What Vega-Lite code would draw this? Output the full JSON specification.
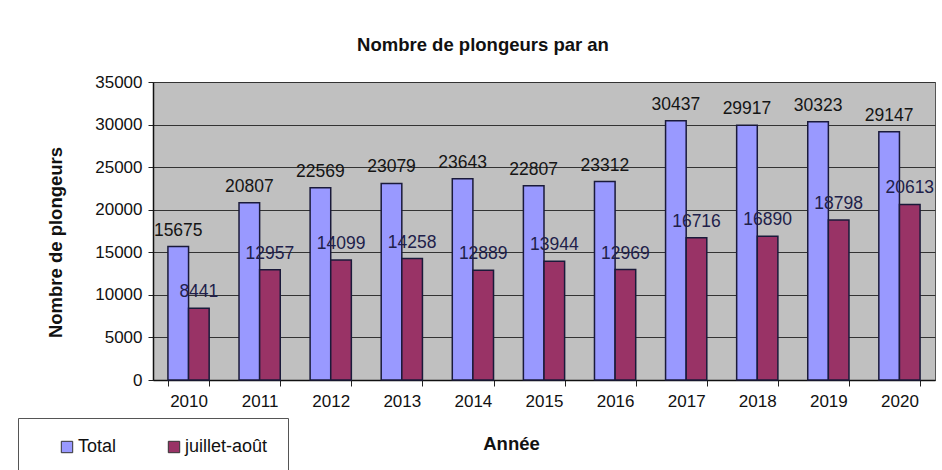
{
  "$schema": "https://vega.github.io/schema/vega-lite/v6.json",
  "width": 782,
  "height": 298,
  "autosize": {"type": "none"},
  "padding": {"left": 153, "top": 82, "right": 7, "bottom": 90},
  "background": "white",
  "title": {"text": "Nombre de plongeurs par an", "fontSize": 18.5, "font": "Liberation Sans", "fontWeight": "bold", "color": "#111", "anchor": "middle", "dx": -61, "offset": 19},
  "data": {"values": [
    {"annee": "2010", "serie": "Total", "valeur": 15675},
    {"annee": "2011", "serie": "Total", "valeur": 20807},
    {"annee": "2012", "serie": "Total", "valeur": 22569},
    {"annee": "2013", "serie": "Total", "valeur": 23079},
    {"annee": "2014", "serie": "Total", "valeur": 23643},
    {"annee": "2015", "serie": "Total", "valeur": 22807},
    {"annee": "2016", "serie": "Total", "valeur": 23312},
    {"annee": "2017", "serie": "Total", "valeur": 30437},
    {"annee": "2018", "serie": "Total", "valeur": 29917},
    {"annee": "2019", "serie": "Total", "valeur": 30323},
    {"annee": "2020", "serie": "Total", "valeur": 29147},
    {"annee": "2010", "serie": "juillet-août", "valeur": 8441},
    {"annee": "2011", "serie": "juillet-août", "valeur": 12957},
    {"annee": "2012", "serie": "juillet-août", "valeur": 14099},
    {"annee": "2013", "serie": "juillet-août", "valeur": 14258},
    {"annee": "2014", "serie": "juillet-août", "valeur": 12889},
    {"annee": "2015", "serie": "juillet-août", "valeur": 13944},
    {"annee": "2016", "serie": "juillet-août", "valeur": 12969},
    {"annee": "2017", "serie": "juillet-août", "valeur": 16716},
    {"annee": "2018", "serie": "juillet-août", "valeur": 16890},
    {"annee": "2019", "serie": "juillet-août", "valeur": 18798},
    {"annee": "2020", "serie": "juillet-août", "valeur": 20613}
  ]},
  "encoding": {
    "x": {"field": "annee", "type": "nominal", "title": "Année",
      "scale": {"paddingInner": 0.42, "paddingOuter": 0.21},
      "axis": {"labelAngle": 0, "labelFontSize": 17, "labelFont": "Liberation Sans", "labelColor": "#111", "labelPadding": 7,
        "tickBand": "extent", "tickSize": 6, "tickColor": "#222", "domainColor": "#111", "domainWidth": 1.5,
        "titleFontSize": 18.5, "titleFont": "Liberation Sans", "titleFontWeight": "bold", "titleColor": "#111",
        "titleX": 358, "titleY": 63, "titleBaseline": "middle", "titleAlign": "center"}},
    "xOffset": {"field": "serie", "type": "nominal", "sort": ["Total", "juillet-août"], "scale": {"paddingInner": 0, "paddingOuter": 0}},
    "y": {"field": "valeur", "type": "quantitative", "title": "Nombre de plongeurs",
      "scale": {"domain": [0, 35000], "nice": false},
      "axis": {"values": [0, 5000, 10000, 15000, 20000, 25000, 30000, 35000], "format": "d",
        "labelFontSize": 17, "labelFont": "Liberation Sans", "labelColor": "#111", "labelPadding": 6,
        "tickSize": 5, "tickColor": "#222", "domainColor": "#111", "domainWidth": 1.5,
        "grid": true, "gridColor": "#333", "gridWidth": 1,
        "titleFontSize": 18.5, "titleFont": "Liberation Sans", "titleFontWeight": "bold", "titleColor": "#111",
        "titleX": -98, "titleY": 160, "titleBaseline": "middle", "titleAlign": "center", "titleAngle": -90}}
  },
  "layer": [
    {
      "mark": {"type": "bar", "stroke": "#1a1a3a", "strokeWidth": 1.5},
      "encoding": {
        "color": {"field": "serie", "type": "nominal", "sort": ["Total", "juillet-août"],
          "scale": {"domain": ["Total", "juillet-août"], "range": ["#9999FF", "#993366"]},
          "legend": {"title": null, "orient": "none", "legendX": -135, "legendY": 336, "direction": "horizontal",
            "columns": 2, "columnPadding": 28, "symbolType": "square", "symbolSize": 130, "symbolStrokeColor": "#333", "symbolStrokeWidth": 1,
            "symbolOffset": 20, "labelOffset": 2,
            "labelFontSize": 18, "labelFont": "Liberation Sans", "labelColor": "#111", "labelLimit": 200,
            "strokeColor": "#555", "fillColor": "white", "padding": 20}}
      }
    },
    {
      "mark": {"type": "text", "baseline": "bottom", "dy": -7, "fontSize": 17.5, "font": "Liberation Sans"},
      "encoding": {
        "text": {"field": "valeur", "type": "quantitative", "format": "d"},
        "color": {"field": "serie", "type": "nominal", "scale": {"domain": ["Total", "juillet-août"], "range": ["#9999FF", "#993366"]}, "legend": null},
        "fill": {"field": "serie", "type": "nominal", "scale": {"domain": ["Total", "juillet-août"], "range": ["#151515", "#20204a"]}, "legend": null}
      }
    }
  ],
  "config": {
    "view": {"fill": "#C0C0C0", "stroke": "#555", "strokeWidth": 1},
    "font": "Liberation Sans"
  }
}
